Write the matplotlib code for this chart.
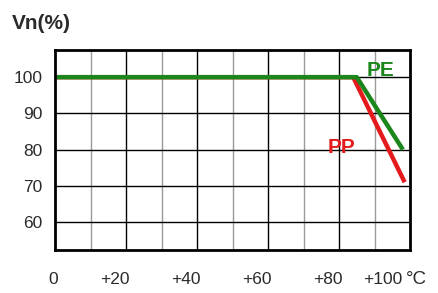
from __future__ import annotations

import matplotlib

matplotlib.use("Agg")
import matplotlib.pyplot as plt
import matplotlib.transforms as mtransforms


# derating curves
PE_TEMP = [0, 85, 98]
PE_VN = [100, 100, 80]
PP_TEMP = [0, 84, 98.5]
PP_VN = [100, 100, 71]

X_TICKS = [0, 20, 40, 60, 80, 100]
X_LABELS = ["0", "+20", "+40", "+60", "+80", "+100"]
Y_TICKS = [60, 70, 80, 90, 100]
Y_LABELS = ["60", "70", "80", "90", "100"]
GRID_MINOR_X = [10, 30, 50, 70, 90]

GREEN = "#1b861b"
RED = "#e41a1c"
TEXT = "#2b2b2b"
FONT = "Liberation Sans"


def build_figure() -> plt.Figure:
    fig = plt.figure(figsize=(4.38, 2.93), dpi=100)
    ax = fig.add_axes([55 / 438, 43 / 293, 355 / 438, 200 / 293])

    ax.set_xlim(0, 100)
    ax.set_ylim(52.3, 107.5)

    # grid: black on the labelled values, grey in between
    for x in X_TICKS[1:-1]:
        ax.axvline(x, color="black", lw=1.0, zorder=1)
    for x in GRID_MINOR_X:
        ax.axvline(x, color="#9a9a9a", lw=1.0, zorder=1)
    for y in Y_TICKS:
        ax.axhline(y, color="black", lw=1.0, zorder=1)

    ax.plot(PP_TEMP, PP_VN, color=RED, lw=3.2, solid_capstyle="butt", zorder=3)
    ax.plot(PE_TEMP, PE_VN, color=GREEN, lw=3.2, solid_capstyle="butt", zorder=4)

    ax.text(91.8, 101.9, "PE", color=GREEN, fontsize=15, fontweight="bold",
            family=FONT, ha="center", va="center", zorder=5)
    ax.text(80.6, 80.7, "PP", color=RED, fontsize=15, fontweight="bold",
            family=FONT, ha="center", va="center", zorder=5)

    ax.set_xticks(X_TICKS)
    ax.set_xticklabels(X_LABELS)
    ax.set_yticks(Y_TICKS)
    ax.set_yticklabels(Y_LABELS)
    ax.tick_params(length=0, labelsize=12.5, labelcolor=TEXT)
    ax.tick_params(axis="x", pad=16)
    ax.tick_params(axis="y", pad=9)
    for label in ax.get_xticklabels() + ax.get_yticklabels():
        label.set_family(FONT)

    # the x labels sit a little left of their grid lines in the original
    xlabels = ax.get_xticklabels()
    for i, label in enumerate(xlabels):
        dx = -2 if i == 0 else -11
        if i == len(xlabels) - 1:
            dx = -8
            label.set_horizontalalignment("right")
        shift = mtransforms.ScaledTranslation(dx / 100, 0, fig.dpi_scale_trans)
        label.set_transform(label.get_transform() + shift)

    for spine in ax.spines.values():
        spine.set_linewidth(2.0)
        spine.set_color("black")
        spine.set_zorder(6)

    fig.text(12 / 438, 1 - 29 / 293, "Vn(%)", fontsize=15, fontweight="bold",
             family=FONT, color=TEXT, ha="left", va="baseline")
    fig.text(406 / 438, 1 - 280 / 293, "°C", fontsize=13.5, family=FONT,
             color=TEXT, ha="left", va="center")
    return fig


def main() -> int:
    fig = build_figure()
    fig.savefig("out.png", dpi=100)
    plt.close(fig)
    return 0


if __name__ == "__main__":
    raise SystemExit(main())
